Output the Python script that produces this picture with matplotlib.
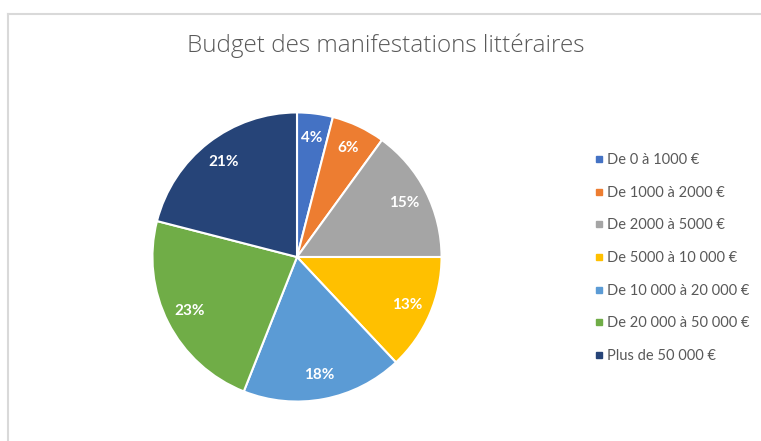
import matplotlib
matplotlib.use("Agg")
import matplotlib.pyplot as plt
from matplotlib.lines import Line2D

# données
categories = ["De 0 à 1000 €", "De 1000 à 2000 €", "De 2000 à 5000 €",
              "De 5000 à 10 000 €", "De 10 000 à 20 000 €",
              "De 20 000 à 50 000 €", "Plus de 50 000 €"]
parts = [4, 6, 15, 13, 18, 23, 21]
couleurs = ["#4472C4", "#ED7D31", "#A5A5A5", "#FFC000", "#5B9BD5", "#70AD47", "#264478"]

plt.rcParams['font.family'] = ['Lato', 'DejaVu Sans']

W, H = 761, 441
fig = plt.figure(figsize=(W / 100, H / 100), dpi=100)

# cadre gris clair (haut et gauche)
fig.add_artist(Line2D([7.5 / W, 7.5 / W], [0, 1 - 13.5 / H], transform=fig.transFigure,
                      color="#D9D9D9", lw=1.5))
fig.add_artist(Line2D([7.5 / W, 1], [1 - 13.5 / H, 1 - 13.5 / H], transform=fig.transFigure,
                      color="#D9D9D9", lw=1.5))

# camembert
cx, cy, r = 297, 257, 146
ax = fig.add_axes([(cx - r) / W, (H - cy - r) / H, 2 * r / W, 2 * r / H])
wedges, textes, pcts = ax.pie(parts, colors=couleurs, startangle=90, counterclock=False,
                              autopct='%d%%', pctdistance=0.83, radius=1,
                              wedgeprops=dict(edgecolor='white', linewidth=1.5))
for t in pcts:
    t.set_color('white')
    t.set_fontweight('bold')
    t.set_fontsize(11)
ax.set_xlim(-1.01, 1.01)
ax.set_ylim(-1.01, 1.01)
ax.set_aspect('equal')
ax.axis('off')

fig.text(386 / W, 1 - 46 / H, "Budget des manifestations littéraires", ha='center', va='center',
         fontsize=17.5, color='#595959', family=['Open Sans', 'DejaVu Sans'], fontweight='light')

# légende
poignees = [Line2D([], [], marker='s', linestyle='', color=c, markersize=5) for c in couleurs]
fig.legend(poignees, categories, loc='upper left', bbox_to_anchor=(580 / W, 1 - 140 / H),
           frameon=False, fontsize=10.5, labelspacing=1.28, handlelength=0.8,
           handletextpad=0.15, labelcolor='#595959')

fig.savefig("out.png", dpi=100)
